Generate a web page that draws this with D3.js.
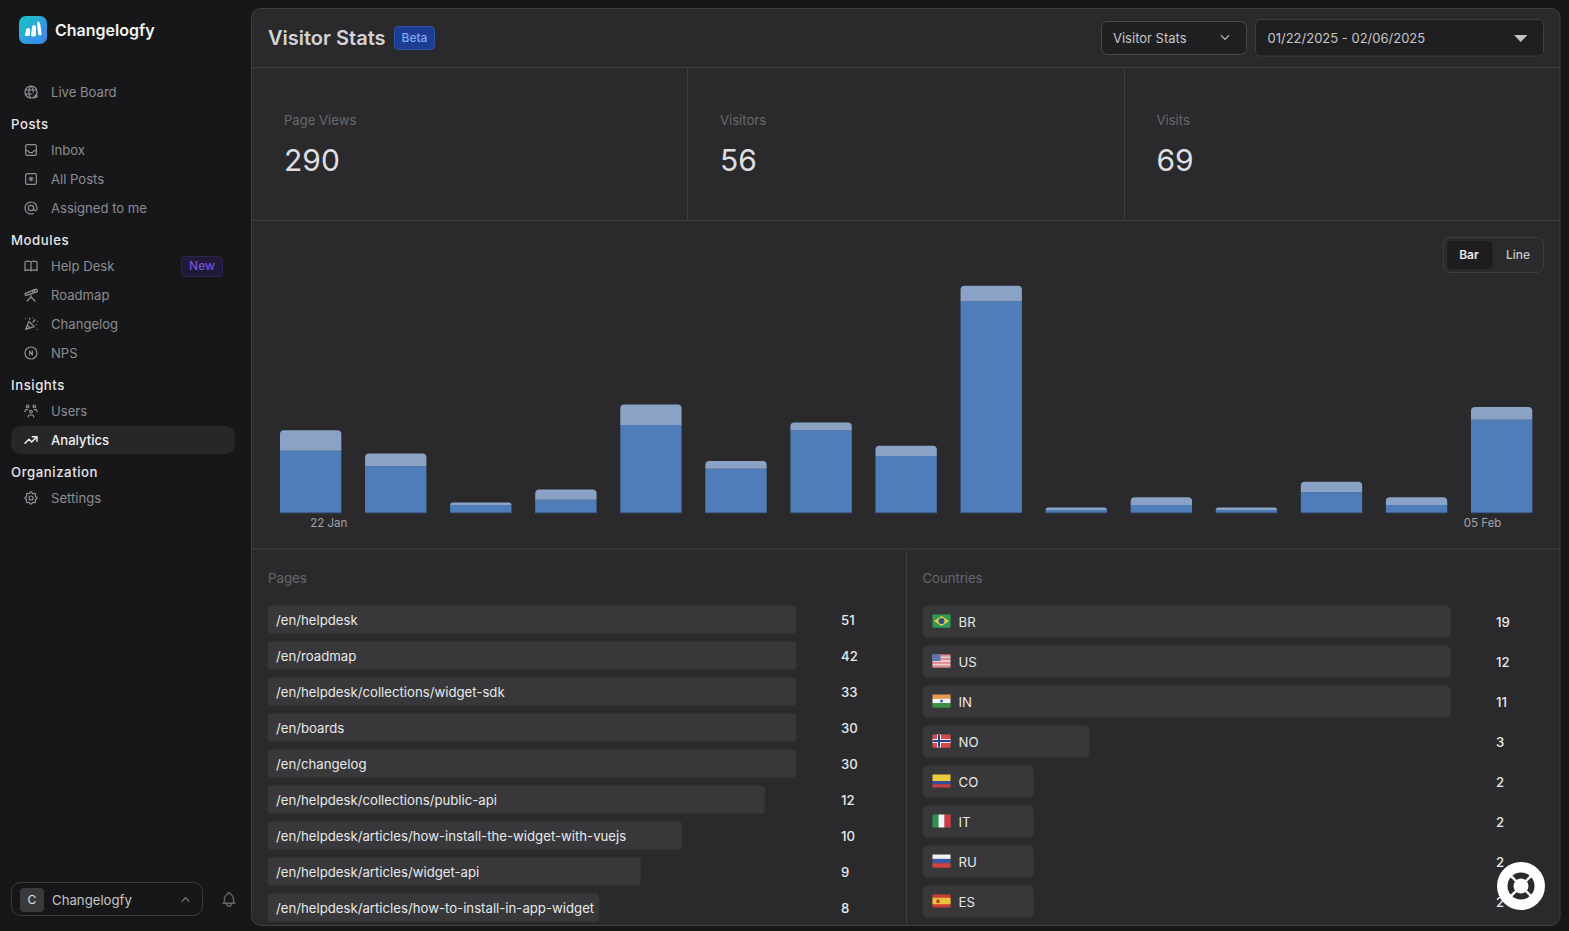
<!DOCTYPE html>
<html><head><meta charset="utf-8">
<script src="https://cdn.jsdelivr.net/npm/d3@7"></script>
<style>
html,body{margin:0;padding:0;background:#17171a;overflow:hidden}
svg{display:block;font-family:Inter,"Noto Sans",sans-serif}
</style></head><body><svg id="c" width="1569" height="931"></svg>
<script>
const days = ["22 Jan","23 Jan","24 Jan","25 Jan","26 Jan","27 Jan","28 Jan","29 Jan","30 Jan","31 Jan","01 Feb","02 Feb","03 Feb","04 Feb","05 Feb"];
const pageViews = [24,18,3,5,34,17,32,22,82,1,3,1,8,3,36];
const visitors  = [8,5,1,4,8,3,3,4,6,1,3,1,4,3,5];
const tickDays = ["22 Jan","05 Feb"];
const pages = ["/en/helpdesk","/en/roadmap","/en/helpdesk/collections/widget-sdk","/en/boards","/en/changelog","/en/helpdesk/collections/public-api","/en/helpdesk/articles/how-install-the-widget-with-vuejs","/en/helpdesk/articles/widget-api","/en/helpdesk/articles/how-to-install-in-app-widget"];
const pageCounts = [51,42,33,30,30,12,10,9,8];
const countries = ["BR","US","IN","NO","CO","IT","RU","ES"];
const countryCounts = [19,12,11,3,2,2,2,2];
const statLabels = ["Page Views","Visitors","Visits"];
const statValues = [290,56,69];

const svg = d3.select("#c");
function T(p,x,y,s,o={}){
  return p.append("text").attr("x",x).attr("y",y).attr("dy",".4em").text(s)
   .attr("font-size",o.size||14).attr("font-weight",o.weight||400).attr("fill",o.fill||"#8c8c90")
   .attr("text-anchor",o.anchor||"start").attr("letter-spacing",o.ls||null);
}
function R(p,x,y,w,h,r,fill,stroke){
  return p.append("rect").attr("x",x).attr("y",y).attr("width",w).attr("height",h).attr("rx",r)
   .attr("fill",fill).attr("stroke",stroke||"none");
}
function L(p,x1,y1,x2,y2,c){p.append("line").attr("x1",x1).attr("y1",y1).attr("x2",x2).attr("y2",y2).attr("stroke",c||"#3e3e41");}
function icon(p,d,cx,cy,size,c,sw){
  const s=size/24;
  p.append("path").attr("d",d).attr("transform",`translate(${cx-size/2},${cy-size/2}) scale(${s})`)
   .attr("fill","none").attr("stroke",c).attr("stroke-width",sw||2).attr("stroke-linecap","round").attr("stroke-linejoin","round");
}

/* ---------- sidebar ---------- */
const side = svg.append("g");
const defs = svg.append("defs");
const lg = defs.append("linearGradient").attr("id","logo").attr("x1",0).attr("y1",0).attr("x2",1).attr("y2",1);
lg.append("stop").attr("offset",0).attr("stop-color","#18c6c4");
lg.append("stop").attr("offset",1).attr("stop-color","#3f7ff0");
R(side,19,16,28,28,7,"url(#logo)");
side.append("path").attr("d","M25 35 l1 -5 q.4 -2 2 -2 q2 0 2 2 l0 4 q0 2 -2 2 l-2 0 q-1.200 0 -1 -1 z M31 35 l1 -8 q.3 -2 2 -2 q2 0 2 2 l0 8 q0 1.500 -2 1.500 l-1.500 0 q-1.500 0 -1.500 -1.500 z M37 23 q.5 -2 1.500 -1.500 q1.600 .5 2 4 l1 8 q.2 2 -1.500 2 q-1.500 0 -2 -2 z").attr("fill","#fff");
T(side,55,30,"Changelogfy",{size:16,weight:600,fill:"#f2f2f3"});

const ic = {
 live:"M3 12a9 9 0 1 0 18 0a9 9 0 1 0-18 0M3.600 9h16.800M3.600 15h10M11.500 3a17 17 0 0 0 0 18M12.500 3a17 17 0 0 1 3 9M17 21l4-4M18 17h3v3",
 inbox:"M4 6a2 2 0 0 1 2-2h12a2 2 0 0 1 2 2v12a2 2 0 0 1-2 2H6a2 2 0 0 1-2-2zM4 13h3l3 3h4l3-3h3",
 all:"M4 6a2 2 0 0 1 2-2h12a2 2 0 0 1 2 2v12a2 2 0 0 1-2 2H6a2 2 0 0 1-2-2zM12 9v6M9.400 10.500l5.200 3M14.600 10.500l-5.200 3",
 at:"M8 12a4 4 0 1 0 8 0a4 4 0 1 0-8 0M16 12v1.500a2.500 2.500 0 0 0 5 0v-1.500a9 9 0 1 0-5.500 8.280",
 book:"M3 19a9 9 0 0 1 9 0a9 9 0 0 1 9 0M3 6a9 9 0 0 1 9 0a9 9 0 0 1 9 0M3 6v13M12 6v13M21 6v13",
 road:"M6 21l6-6l6 6M12 15v-2M3 10l1 3l14-5l-1-4zM14 5l1.500 4M18 4l2.500-1l1.200 4l-2.700 1",
 conf:"M4 20l5-12l8 8zM6.500 14l4 4M10 9l5 5M4 4h.01M22 8h.01M15 3h.01M21 20h.01M15 9l3-3M20 13h.01M10 3v2",
 nps:"M3 12a9 9 0 1 0 18 0a9 9 0 1 0-18 0M10 15V9l4 6V9",
 users:"M10 13a2 2 0 1 0 4 0a2 2 0 0 0-4 0M8 21v-1a2 2 0 0 1 2-2h4a2 2 0 0 1 2 2v1M15 5a2 2 0 1 0 4 0a2 2 0 0 0-4 0M17 10h2a2 2 0 0 1 2 2v1M5 5a2 2 0 1 0 4 0a2 2 0 0 0-4 0M3 13v-1a2 2 0 0 1 2-2h2",
 trend:"M3 17l6-6l4 4l8-8M14 7h7v7",
 gear:"M10.300 4.300c.4-1.800 3-1.800 3.400 0a1.700 1.700 0 0 0 2.600 1.100c1.500-.9 3.300.8 2.400 2.400a1.700 1.700 0 0 0 1 2.500c1.800.4 1.800 3 0 3.400a1.700 1.700 0 0 0-1 2.600c.9 1.500-.8 3.300-2.400 2.400a1.700 1.700 0 0 0-2.600 1c-.4 1.800-3 1.800-3.400 0a1.700 1.700 0 0 0-2.600-1c-1.500.9-3.300-.8-2.400-2.400a1.700 1.700 0 0 0-1-2.600c-1.800-.4-1.800-3 0-3.400a1.700 1.700 0 0 0 1-2.600c-.9-1.500.8-3.300 2.400-2.400c1 .6 2.300.1 2.600-1M9 12a3 3 0 1 0 6 0a3 3 0 0 0-6 0"
};
R(side,11,426,224,28,10,"#27272a");
[["Live Board",92,"live"],["Inbox",150,"inbox"],["All Posts",179,"all"],["Assigned to me",208,"at"],
 ["Help Desk",266,"book"],["Roadmap",295,"road"],["Changelog",324,"conf"],["NPS",353,"nps"],
 ["Users",411,"users"],["Analytics",440,"trend"],["Settings",498,"gear"]].forEach(([s,y,k])=>{
  const a=s==="Analytics";
  icon(side,ic[k],31,y,16,a?"#f0f0f0":"#929296",a?2.200:1.800);
  T(side,51,y,s,{fill:a?"#f0f0f0":"#8c8c90",size:13.100,weight:a?500:400});
});
[["Posts",124],["Modules",240],["Insights",385],["Organization",472]].forEach(([s,y])=>
  T(side,11,y,s,{fill:"#e6e6e8",size:13.200,weight:500,ls:".55px"}));
R(side,181.500,256.500,41,20,4,"#201a38","#2d2550");
T(side,202,265.200,"New",{size:12,weight:500,fill:"#7450d8",anchor:"middle"});

R(side,11.500,882.500,191,33,9,"none","#3b3b3e");
R(side,20,888,24,24,4,"#3a3a3d");
T(side,32,899.500,"C",{size:12,fill:"#e2e2e2",anchor:"middle"});
T(side,52,899.500,"Changelogfy",{size:13.200,fill:"#c4c4c6"});
icon(side,"M6 15l6-6l6 6",185.500,899.500,14,"#77777a",2);
icon(side,"M10 5a2 2 0 1 1 4 0a7 7 0 0 1 4 6v3a4 4 0 0 0 2 3H4a4 4 0 0 0 2-3v-3a7 7 0 0 1 4-6M9 17v1a3 3 0 0 0 6 0v-1",229,899.500,18,"#666669",1.800);

/* ---------- main panel ---------- */
const main = svg.append("g");
R(main,251.500,8.500,1308.500,917,9,"#2a2a2d","#3e3e41");
L(main,252,67.500,1560,67.500);
L(main,252,220.500,1560,220.500);
L(main,252,549,1560,549);
L(main,687.500,68,687.500,220);
L(main,1124.500,68,1124.500,220);
L(main,906.500,550,906.500,925);

T(main,268,37.300,"Visitor Stats",{size:20,weight:600,fill:"#d4d4d6"});
R(main,394.500,26.500,40,23,4,"#1c3d92","#2d54b0");
T(main,414.500,37.300,"Beta",{size:12,weight:500,fill:"#7fa9f7",anchor:"middle"});

R(main,1101.500,21.500,145,33,6,"#202023","#4a4a4d");
T(main,1113,38,"Visitor Stats",{size:13,fill:"#c6c6c8"});
icon(main,"M6 9l6 6l6-6",1225,37.500,15,"#bbbbbd",2);
R(main,1255.500,19.500,288,36.500,5,"#1f1f22","#3e3e41");
T(main,1267.500,38,"01/22/2025 - 02/06/2025",{size:13,fill:"#c6c6c8"});
main.append("path").attr("d",d3.line()([[1514,35],[1527.500,35],[1520.700,42]])+"Z").attr("fill","#c2c2c4");

statLabels.forEach((s,i)=>{
  const x=[284,720,1156.500][i];
  T(main,x,120,s,{fill:"#68686b",size:13.100});
  T(main,x,159.200,statValues[i],{size:30,fill:"#dedee0",weight:400});
});

R(main,1443.500,237.500,100,35,7,"none","#3e3e41");
R(main,1447.500,241,45,28,4,"#1d1d20");
T(main,1469,254.500,"Bar",{size:12,weight:600,fill:"#ececee",anchor:"middle"});
T(main,1518,254.500,"Line",{size:12,weight:500,fill:"#c6c6c8",anchor:"middle"});

/* ---------- stacked bars ---------- */
const baseY = 512.700;
const x = d3.scaleBand().domain(days).range([280,1532.300]).paddingInner(0.279).paddingOuter(0);
const y = d3.scaleLinear().domain([0,100]).range([baseY,254.800]);
const chart = main.append("g");
const topPath = (x0,w,y0,y1,r)=>{
  const rr=Math.min(r,y1-y0);
  return `M${x0},${y1}V${y0+rr}Q${x0},${y0} ${x0+rr},${y0}H${x0+w-rr}Q${x0+w},${y0} ${x0+w},${y0+rr}V${y1}Z`;
};
chart.selectAll("rect.views").data(days).join("rect").attr("class","views")
  .attr("x",d=>x(d)).attr("width",x.bandwidth())
  .attr("y",(d,i)=>y(pageViews[i])).attr("height",(d,i)=>baseY-y(pageViews[i]))
  .attr("fill","#4f7db9");
chart.selectAll("path.visitors").data(days).join("path").attr("class","visitors")
  .attr("d",(d,i)=>topPath(x(d),x.bandwidth(),y(pageViews[i]+visitors[i]),y(pageViews[i]),4))
  .attr("fill","#8aa2c6");
chart.selectAll("line.base").data(days).join("line").attr("class","base")
  .attr("x1",d=>x(d)).attr("x2",d=>x(d)+x.bandwidth()).attr("y1",baseY).attr("y2",baseY)
  .attr("stroke","#3f5f8e").attr("stroke-width",1);
const axis = main.append("g").attr("transform",`translate(0,${baseY+6.300})`)
  .call(d3.axisBottom(x).tickValues(tickDays).tickSize(0).tickPadding(0));
axis.select(".domain").remove();
axis.selectAll("text").attr("fill","#a2a2a5").attr("font-size",11.500).attr("font-family","Inter")
  .attr("dx",(d,i)=>i?-19:18).attr("dy",".71em");

/* ---------- pages / countries lists ---------- */
T(main,268,577.500,"Pages",{fill:"#68686b",size:13.300});
T(main,922.500,577.500,"Countries",{fill:"#68686b",size:13.100});

const pw = d3.scaleLinear().domain([0,12.750]).range([0,528]).clamp(true);
const py = d3.scaleBand().domain(pages).range([605.500,605.500+36*pages.length-8]).paddingInner(8/36).paddingOuter(0);
const pg = main.append("g");
pg.selectAll("rect").data(pages).join("rect")
  .attr("x",268).attr("y",d=>py(d)).attr("height",py.bandwidth()).attr("rx",4)
  .attr("width",(d,i)=>pw(pageCounts[i])).attr("fill","#38383b");
pg.selectAll("text.l").data(pages).join("text").attr("class","l")
  .attr("x",276).attr("y",d=>py(d)+py.bandwidth()/2).attr("dy",".4em").text(d=>d)
  .attr("font-size",13.200).attr("fill","#e8e8ea");
pg.selectAll("text.v").data(pages).join("text").attr("class","v")
  .attr("x",841).attr("y",d=>py(d)+py.bandwidth()/2).attr("dy",".4em").text((d,i)=>pageCounts[i])
  .attr("font-size",13.200).attr("font-weight",500).attr("fill","#e8e8ea");

const cw = d3.scaleLinear().domain([0,9.510]).range([0,528]).clamp(true);
const cy = d3.scaleBand().domain(countries).range([605.500,605.500+40*countries.length-8]).paddingInner(8/40).paddingOuter(0);
const cg = main.append("g");
cg.selectAll("rect.b").data(countries).join("rect").attr("class","b")
  .attr("x",922.700).attr("y",d=>cy(d)).attr("height",cy.bandwidth()).attr("rx",5)
  .attr("width",(d,i)=>cw(countryCounts[i])).attr("fill","#38383b");
cg.selectAll("text.l").data(countries).join("text").attr("class","l")
  .attr("x",958.500).attr("y",d=>cy(d)+cy.bandwidth()/2).attr("dy",".4em").text(d=>d)
  .attr("font-size",13.200).attr("fill","#e8e8ea");
cg.selectAll("text.v").data(countries).join("text").attr("class","v")
  .attr("x",1496).attr("y",d=>cy(d)+cy.bandwidth()/2).attr("dy",".4em").text((d,i)=>countryCounts[i])
  .attr("font-size",13.200).attr("font-weight",500).attr("fill","#e8e8ea");

/* flags */
const fx=932.500, fw=18, fh=13;
function flag(code,draw){
  const g=cg.append("g").attr("transform",`translate(${fx},${cy(code)+cy.bandwidth()/2-fh/2-.5})`);
  draw(g);
}
const hs=(g,cols)=>cols.forEach((c,i)=>g.append("rect").attr("y",i*fh/cols.length).attr("width",fw).attr("height",fh/cols.length+.2).attr("fill",c));
const vs=(g,cols)=>cols.forEach((c,i)=>g.append("rect").attr("x",i*fw/cols.length).attr("width",fw/cols.length+.2).attr("height",fh).attr("fill",c));
flag("BR",g=>{hs(g,["#2f9a55"]);g.append("path").attr("d","M9 1.500L16.500 6.500L9 11.500L1.500 6.500Z").attr("fill","#e9cf3d");g.append("circle").attr("cx",9).attr("cy",6.500).attr("r",3).attr("fill","#2c4f94");});
flag("US",g=>{hs(g,["#e28a90","#f0d0d0","#e28a90","#f0d0d0","#e28a90","#f0d0d0","#e28a90"]);g.append("rect").attr("width",8).attr("height",6.500).attr("fill","#5a74b4");});
flag("IN",g=>{hs(g,["#ea9a50","#f2f2f2","#3b9145"]);g.append("circle").attr("cx",9).attr("cy",6.500).attr("r",1.500).attr("fill","#4a5ca8");});
flag("NO",g=>{hs(g,["#d64a4a"]);g.append("rect").attr("x",4.500).attr("width",4).attr("height",fh).attr("fill","#eee");g.append("rect").attr("y",4.500).attr("width",fw).attr("height",4).attr("fill","#eee");g.append("rect").attr("x",5.500).attr("width",2).attr("height",fh).attr("fill","#31427f");g.append("rect").attr("y",5.500).attr("width",fw).attr("height",2).attr("fill","#31427f");});
flag("CO",g=>{g.append("rect").attr("width",fw).attr("height",6.500).attr("fill","#ecce3c");g.append("rect").attr("y",6.500).attr("width",fw).attr("height",3.250).attr("fill","#34509c");g.append("rect").attr("y",9.750).attr("width",fw).attr("height",3.250).attr("fill","#c83c42");});
flag("IT",g=>vs(g,["#2f9150","#f2f2f2","#cf3a45"]));
flag("RU",g=>hs(g,["#f2f2f2","#3a5aa8","#cf4440"]));
flag("ES",g=>{g.append("rect").attr("width",fw).attr("height",fh).attr("fill","#c93d36");g.append("rect").attr("y",3.250).attr("width",fw).attr("height",6.500).attr("fill","#ecc23c");g.append("rect").attr("x",4).attr("y",5).attr("width",3).attr("height",3.500).attr("fill","#a8452e");});

/* help button */
const help = svg.append("g").attr("transform","translate(1521,886)");
help.append("circle").attr("r",24).attr("fill","#fff");
help.append("circle").attr("r",10.500).attr("fill","none").attr("stroke","#2a2a2d").attr("stroke-width",6);
[45,135,225,315].forEach(a=>help.append("line").attr("x1",5).attr("x2",15).attr("transform",`rotate(${a})`).attr("stroke","#fff").attr("stroke-width",2.500));
</script></body></html>
